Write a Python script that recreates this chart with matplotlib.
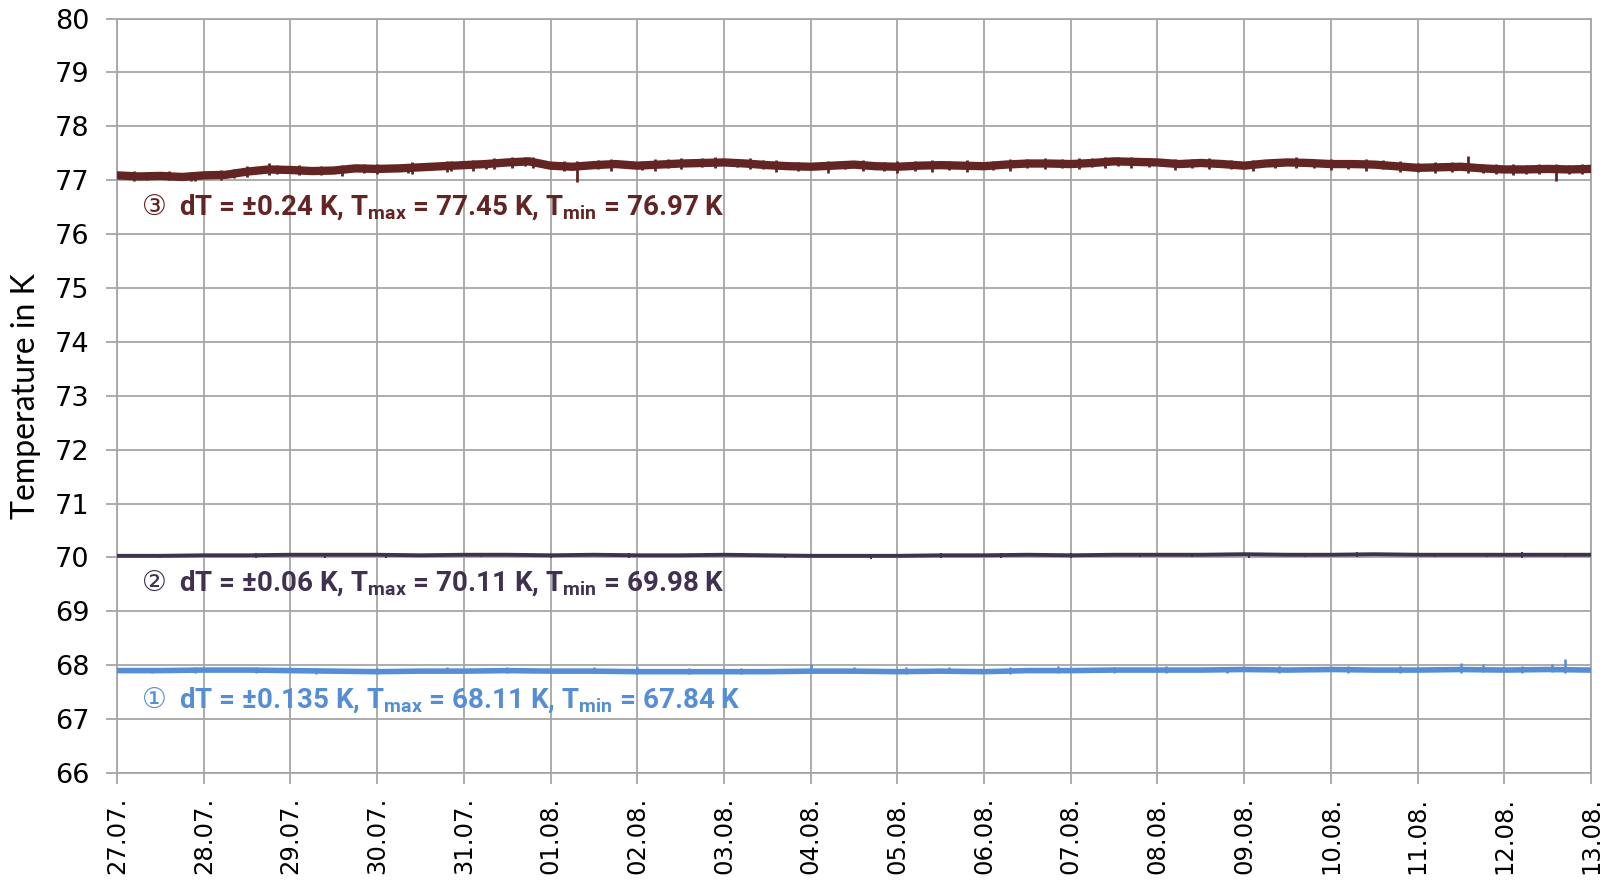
import matplotlib
matplotlib.use("Agg")
import matplotlib.pyplot as plt

# date labels, one per day
day_labels = ["27.07.", "28.07.", "29.07.", "30.07.", "31.07.", "01.08.", "02.08.", "03.08.", "04.08.",
              "05.08.", "06.08.", "07.08.", "08.08.", "09.08.", "10.08.", "11.08.", "12.08.", "13.08."]

# sensor 3, sampled every 6 h (days since 27.07.)
t3 = [i * 0.25 for i in range(69)]
temp3 = [77.09, 77.07, 77.08, 77.06, 77.09, 77.10, 77.16, 77.20, 77.19, 77.17, 77.18, 77.22,
         77.21, 77.22, 77.24, 77.26, 77.28, 77.30, 77.33, 77.35, 77.27, 77.25, 77.28, 77.30,
         77.27, 77.29, 77.31, 77.32, 77.33, 77.31, 77.28, 77.26, 77.25, 77.27, 77.29, 77.26,
         77.25, 77.27, 77.28, 77.27, 77.26, 77.29, 77.31, 77.31, 77.30, 77.32, 77.35, 77.34,
         77.33, 77.30, 77.32, 77.30, 77.27, 77.31, 77.33, 77.32, 77.30, 77.30, 77.29, 77.26,
         77.23, 77.24, 77.25, 77.22, 77.20, 77.20, 77.21, 77.20, 77.21]

# sensors 2 and 1, sampled every 12 h
t12 = [i * 0.5 for i in range(35)]
temp2 = [70.03, 70.03, 70.04, 70.04, 70.05, 70.05, 70.05, 70.04, 70.05, 70.05, 70.04, 70.05,
         70.04, 70.04, 70.05, 70.04, 70.03, 70.03, 70.03, 70.04, 70.04, 70.05, 70.04, 70.05,
         70.05, 70.05, 70.06, 70.05, 70.05, 70.06, 70.05, 70.05, 70.05, 70.05, 70.05]
temp1 = [67.90, 67.90, 67.91, 67.91, 67.90, 67.89, 67.88, 67.89, 67.89, 67.90, 67.89, 67.89,
         67.88, 67.88, 67.88, 67.88, 67.89, 67.89, 67.88, 67.89, 67.88, 67.90, 67.90, 67.91,
         67.91, 67.91, 67.92, 67.91, 67.92, 67.91, 67.91, 67.92, 67.91, 67.92, 67.91]

# short excursions: time, low, high
spike_t3 = [0.2, 0.6, 0.9, 1.2, 1.5, 1.75, 2.1, 2.6, 3.0, 3.4, 3.8, 4.1, 4.35, 4.55, 4.8, 5.3, 5.7,
            6.2, 6.5, 6.9, 7.3, 7.6, 8.2, 8.6, 9.0, 9.4, 9.8, 10.3, 10.7, 11.1, 11.4, 11.7, 12.2,
            12.6, 13.1, 13.6, 14.0, 14.4, 14.8, 15.2, 15.58, 15.9, 16.1, 16.4, 16.6, 16.9,
            0.35, 0.85, 1.35, 1.85, 2.35, 2.85, 3.35, 3.85, 4.25, 4.7, 5.15, 5.55, 6.05, 6.35,
            6.75, 7.15, 7.45, 7.85, 8.4, 8.85, 9.2, 9.6, 10.1, 10.5, 10.9, 11.25, 11.55, 11.9,
            12.4, 12.85, 13.35, 13.8, 14.2, 14.6, 15.0, 15.4, 15.75, 16.25, 16.75]
spike_lo3 = [76.99, 77.00, 76.99, 77.01, 77.06, 77.10, 77.09, 77.08, 77.11, 77.12, 77.15, 77.17, 77.20,
             77.22, 77.23, 76.97, 77.18, 77.17, 77.20, 77.22, 77.20, 77.16, 77.14, 77.17, 77.14, 77.16,
             77.16, 77.18, 77.20, 77.20, 77.22, 77.23, 77.19, 77.20, 77.17, 77.22, 77.19, 77.18, 77.15,
             77.13, 77.14, 77.11, 77.10, 77.11, 76.98, 77.11,
             77.00, 76.99, 77.04, 77.12, 77.09, 77.13, 77.14, 77.18, 77.21, 77.26, 77.18, 77.20, 77.19,
             77.22, 77.24, 77.24, 77.20, 77.17, 77.20, 77.17, 77.18, 77.19, 77.19, 77.22, 77.22, 77.24,
             77.26, 77.25, 77.22, 77.21, 77.23, 77.23, 77.21, 77.20, 77.15, 77.16, 77.14, 77.12, 77.12]
spike_hi3 = [77.17, 77.17, 77.16, 77.19, 77.26, 77.32, 77.29, 77.28, 77.31, 77.34, 77.36, 77.38, 77.41,
             77.43, 77.44, 77.35, 77.39, 77.39, 77.41, 77.43, 77.41, 77.37, 77.36, 77.38, 77.35, 77.38,
             77.37, 77.40, 77.41, 77.41, 77.44, 77.44, 77.40, 77.41, 77.38, 77.43, 77.40, 77.39, 77.36,
             77.34, 77.45, 77.31, 77.30, 77.31, 77.30, 77.31,
             77.14, 77.15, 77.21, 77.28, 77.26, 77.30, 77.31, 77.35, 77.38, 77.44, 77.35, 77.37, 77.36,
             77.39, 77.41, 77.40, 77.37, 77.34, 77.36, 77.34, 77.35, 77.36, 77.36, 77.39, 77.39, 77.41,
             77.43, 77.42, 77.39, 77.38, 77.40, 77.40, 77.38, 77.37, 77.32, 77.33, 77.31, 77.29, 77.29]

spike_t2 = [0.5, 1.6, 2.4, 3.1, 4.2, 5.0, 5.9, 6.8, 7.7, 8.7, 9.5, 10.2, 11.0, 11.8, 12.4, 13.05,
            13.7, 14.3, 15.2, 15.8, 16.2, 16.7]
spike_lo2 = [69.99, 69.99, 69.99, 69.99, 70.00, 69.99, 69.99, 70.00, 69.99, 69.98, 69.99, 69.99, 69.99,
             70.00, 70.00, 69.99, 70.00, 70.00, 70.00, 70.00, 69.99, 70.00]
spike_hi2 = [70.07, 70.08, 70.07, 70.07, 70.08, 70.07, 70.08, 70.08, 70.07, 70.07, 70.08, 70.08, 70.08,
             70.08, 70.08, 70.08, 70.09, 70.10, 70.08, 70.08, 70.11, 70.08]

spike_t1 = [0.4, 0.9, 1.6, 2.3, 3.0, 3.8, 4.5, 5.5, 6.0, 6.6, 7.2, 8.0, 8.5, 9.1, 9.6, 10.3, 10.85,
            11.5, 12.1, 12.8, 13.4, 14.2, 14.8, 15.5, 15.75, 16.2, 16.55, 16.7]
spike_lo1 = [67.85, 67.85, 67.85, 67.84, 67.84, 67.85, 67.85, 67.85, 67.84, 67.84, 67.84, 67.85, 67.85,
             67.84, 67.85, 67.84, 67.85, 67.86, 67.86, 67.86, 67.86, 67.86, 67.86, 67.86, 67.87, 67.86,
             67.87, 67.86]
spike_hi1 = [67.95, 67.96, 67.96, 67.95, 67.94, 67.96, 67.96, 67.96, 67.97, 67.95, 67.95, 68.03, 67.96,
             67.96, 67.97, 67.96, 67.99, 67.97, 67.98, 67.97, 67.99, 67.99, 67.98, 68.04, 68.02, 67.98,
             68.02, 68.11]

c1 = "#558ed5"
c2 = "#403151"
c3 = "#632523"
grid_c = "#a6a6a6"

plt.rcParams["mathtext.fontset"] = "custom"
plt.rcParams["mathtext.rm"] = "Roboto:bold"
plt.rcParams["mathtext.it"] = "Roboto:bold"
plt.rcParams["mathtext.bf"] = "Roboto:bold"

fig = plt.figure(figsize=(16.17, 8.8), dpi=100)
ax = fig.add_axes([0.0724, 0.1216, 0.9115, 0.8573])

ax.plot(t3, temp3, color=c3, lw=6.0, solid_joinstyle="round", zorder=3)
ax.vlines(spike_t3, spike_lo3, spike_hi3, color=c3, lw=2.0, zorder=3)
ax.plot(t12, temp2, color=c2, lw=2.8, zorder=3)
ax.vlines(spike_t2, spike_lo2, spike_hi2, color=c2, lw=1.4, zorder=3)
ax.plot(t12, temp1, color=c1, lw=4.0, zorder=3)
ax.vlines(spike_t1, spike_lo1, spike_hi1, color=c1, lw=1.8, zorder=3)

ax.set_xlim(0, 17)
ax.set_ylim(66, 80)
ax.set_xticks(range(18))
ax.set_xticklabels(day_labels, rotation=90, fontsize=17.5, family="DejaVu Sans")
ax.set_yticks(range(66, 81))
ax.tick_params(axis="y", labelsize=19.5, length=8, width=1.3, color=grid_c, pad=12)
ax.tick_params(axis="x", length=8, width=1.3, color=grid_c, pad=9)
ax.grid(True, color=grid_c, lw=1.3)
ax.set_axisbelow(True)
for s in ax.spines.values():
    s.set_color(grid_c)
    s.set_linewidth(1.3)

ax.set_ylabel("Temperature in K", fontsize=23, family=["Lato", "DejaVu Sans"], labelpad=10)

# labels under each trace
notes = [
    (76.50, c3, "\u2462", r"dT = ±0.24 K, T$_\mathrm{max}$ = 77.45 K, T$_\mathrm{min}$ = 76.97 K"),
    (69.53, c2, "\u2461", r"dT = ±0.06 K, T$_\mathrm{max}$ = 70.11 K, T$_\mathrm{min}$ = 69.98 K"),
    (67.35, c1, "\u2460", r"dT = ±0.135 K, T$_\mathrm{max}$ = 68.11 K, T$_\mathrm{min}$ = 67.84 K"),
]
for y, col, mark, txt in notes:
    ax.text(0.29, y, mark, color=col, fontsize=20, va="center", family="DejaVu Sans")
    ax.text(0.72, y, txt, color=col, fontsize=20, va="center", fontweight="bold",
            family=["Roboto", "DejaVu Sans"])

fig.savefig("out.png", dpi=100)
